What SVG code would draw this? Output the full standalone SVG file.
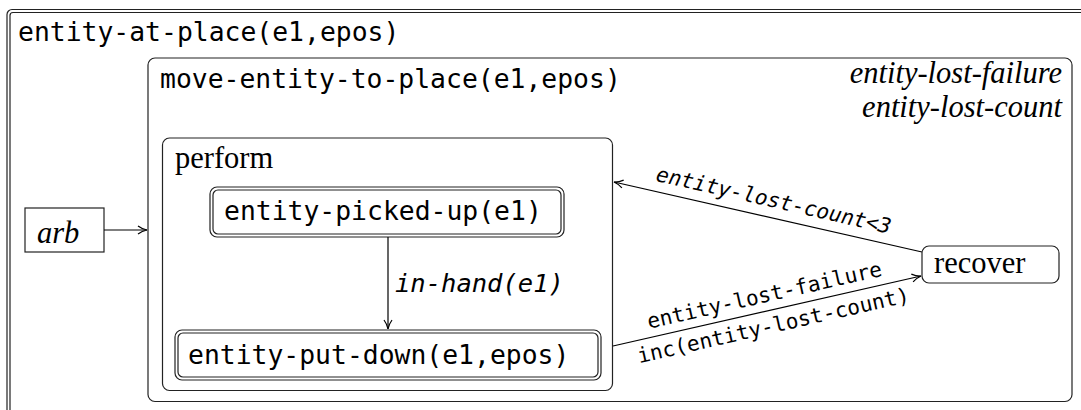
<svg xmlns="http://www.w3.org/2000/svg" width="1081" height="410" viewBox="0 0 1081 410">
<style>
.box{fill:none;stroke:#222;stroke-width:1.2}
.mono{font-family:"DejaVu Sans Mono",monospace;font-size:26.4px;fill:#000}
.lbl{font-family:"DejaVu Sans Mono",monospace;font-size:21px;fill:#000}
.serif{font-family:"Liberation Serif","Times New Roman",serif;font-size:30.5px;fill:#000}
.it{font-style:italic}
.edge{fill:none;stroke:#000;stroke-width:1.2}
</style>
<defs>
<marker id="arr" markerUnits="userSpaceOnUse" markerWidth="12" markerHeight="10" refX="10" refY="5" orient="auto">
<path d="M1,1 Q5,4 10,5 Q5,6 1,9" fill="none" stroke="#000" stroke-width="1.2"/>
</marker>
</defs>
<rect width="1081" height="410" fill="#fff"/>
<g id="entity-at-place">
<rect class="box" x="7" y="9.5" width="1100" height="430" rx="5"/>
<rect class="box" x="10" y="12.5" width="1100" height="430" rx="3"/>
<text class="mono" x="18" y="41">entity-at-place(e1,epos)</text>
</g>
<g id="move-entity-to-place">
<rect class="box" x="148" y="58" width="924" height="343.5" rx="7"/>
<text class="mono" x="160" y="88">move-entity-to-place(e1,epos)</text>
<text class="serif it" x="1062" y="83" text-anchor="end">entity-lost-failure</text>
<text class="serif it" x="1062" y="117" text-anchor="end">entity-lost-count</text>
</g>
<g id="perform">
<rect class="box" x="162.5" y="138" width="450" height="252.5" rx="7"/>
<text class="serif" x="175" y="168">perform</text>
</g>
<g id="entity-picked-up">
<rect class="box" x="210" y="187" width="354" height="50" rx="7"/>
<rect class="box" x="213" y="190" width="348" height="44" rx="5"/>
<text class="mono" x="224" y="220">entity-picked-up(e1)</text>
</g>
<g id="entity-put-down">
<rect class="box" x="175" y="330" width="426" height="50" rx="7"/>
<rect class="box" x="178" y="333" width="420" height="44" rx="5"/>
<text class="mono" x="188" y="364">entity-put-down(e1,epos)</text>
</g>
<g id="arb">
<rect class="box" x="25" y="208" width="79" height="44"/>
<text class="serif it" x="37" y="243">arb</text>
</g>
<g id="recover">
<rect class="box" x="922" y="246" width="137" height="37" rx="7"/>
<text class="serif" x="934" y="273">recover</text>
</g>
<g id="connectors">
<line class="edge" x1="104" y1="230" x2="147" y2="230" marker-end="url(#arr)"/>
<line class="edge" x1="388" y1="237" x2="388" y2="329" marker-end="url(#arr)"/>
<text class="mono it" x="395" y="292" style="font-size:25.5px">in-hand(e1)</text>
<line class="edge" x1="922" y1="252" x2="614" y2="182" marker-end="url(#arr)"/>
<text class="lbl it" transform="translate(770,217) rotate(12.8)" x="0" y="-10" text-anchor="middle">entity-lost-count&lt;3</text>
<line class="edge" x1="613" y1="346" x2="921" y2="276" marker-end="url(#arr)"/>
<text class="lbl" transform="translate(768,311) rotate(-12.8)" x="0" y="-9" text-anchor="middle">entity-lost-failure</text>
<text class="lbl" transform="translate(770,311) rotate(-12.8)" x="0" y="22" text-anchor="middle">inc(entity-lost-count)</text>
</g>
</svg>
